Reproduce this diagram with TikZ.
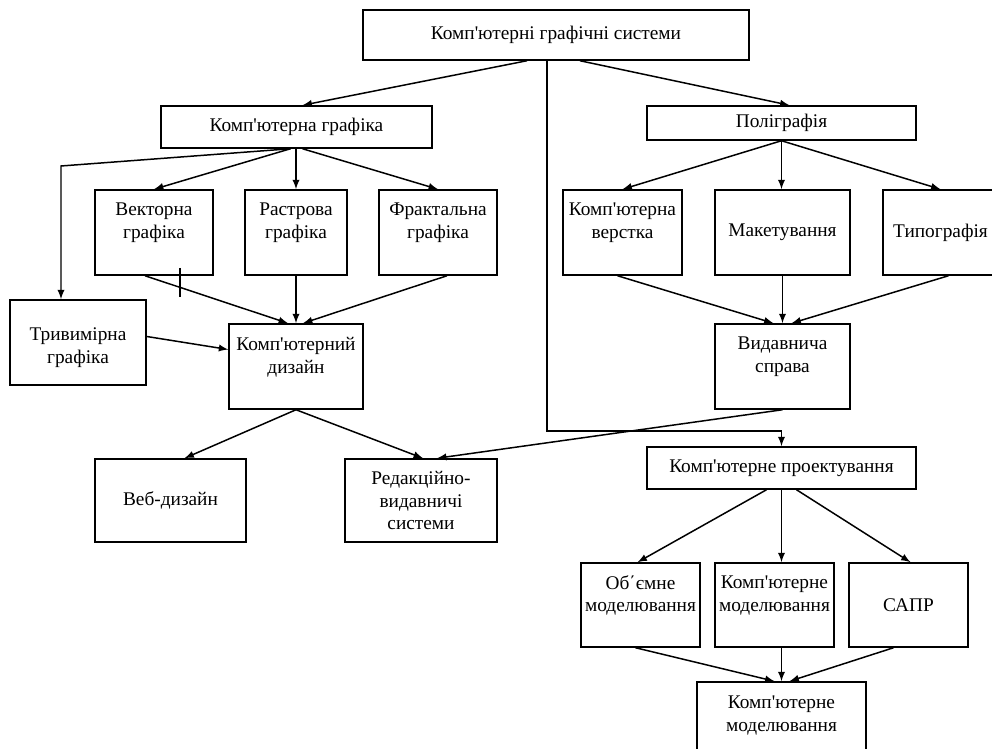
\documentclass[tikz,border=0pt]{standalone}
\usepackage{fontspec}
\setmainfont{Liberation Serif}
\newcommand{\apos}{\textquotesingle}
\usetikzlibrary{arrows, calc}

\begin{document}
\begin{tikzpicture}[
    x=0.02cm, y=-0.02cm,
    >=latex,
    line width=0.85pt,
    font=\fontsize{11}{13}\selectfont,
    box/.style 2 args={rectangle, draw, align=center, inner sep=0pt, minimum width=#1*0.02cm, minimum height=#2*0.02cm}
]
\clip (0,0) rectangle (992,749);

\node[box={386}{50}] (sys) at (556,35) {Комп\apos ютерні графічні системи};
\node[box={271}{42}] (cg) at (296.5,127) {Комп\apos ютерна графіка};
\node[box={269}{34}] (poly) at (781.5,123) {Поліграфія};
\node[box={118}{85}] (vect) at (154,232.5) {Векторна\\графіка\\~};
\node[box={102}{85}] (rast) at (296,232.5) {Растрова\\графіка\\~};
\node[box={118}{85}] (frac) at (438,232.5) {Фрактальна\\графіка\\~};
\node[box={119}{85}] (layout) at (622.5,232.5) {Комп\apos ютерна\\верстка\\~};
\node[box={135}{85}] (maket) at (782.5,232.5) {Макетування};
\node[box={115}{85}] (typo) at (940.5,232.5) {Типографія};
\node[box={136}{85}] (tri) at (78,342.5) {~\\Тривимірна\\графіка};
\node[box={134}{85}] (design) at (296,366.5) {Комп\apos ютерний\\дизайн\\~};
\node[box={135}{85}] (pub) at (782.5,366.5) {Видавнича\\справа\\~};
\node[box={151}{83}] (web) at (170.5,500.5) {Веб-дизайн};
\node[box={152}{83}] (red) at (421,500.5) {Редакційно-\\видавничі\\системи};
\node[box={269}{42}] (proj) at (781.5,468) {Комп\apos ютерне проектування};
\node[box={119}{84}] (vol) at (640.5,605) {Об΄ємне\\моделювання\\~};
\node[box={119}{84}] (cmod) at (774.5,605) {Комп\apos ютерне\\моделювання\\~};
\node[box={119}{84}] (cad) at (908.5,605) {САПР};
\node[box={169}{86}] (bot) at (781.5,725) {Комп\apos ютерне\\моделювання\\~};

\coordinate (down) at (547,431);
\coordinate (tribend) at (61,166);

\draw[->] ($(sys.south)+(-29,0)$) -- ($(cg.north)+(6,0)$);
\draw[->] ($(sys.south)+(24,0)$) -- ($(poly.north)+(8,0)$);
\draw[->] (sys.south -| down) -- (down) -- (down -| proj.north) -- (proj.north);

\draw[->] ($(cg.south)+(-6,0)$) -- (tribend) -- (tribend |- tri.north);
\draw[->] ($(cg.south)+(-6,0)$) -- (vect.north);
\draw[->] (cg.south -| rast.north) -- (rast.north);
\draw[->] ($(cg.south)+(6,0)$) -- (frac.north);

\draw[->] (poly.south) -- (layout.north);
\draw[->] (poly.south) -- (poly.south |- maket.north);
\draw[->] (poly.south) -- (typo.north);

\draw[->] ($(vect.south)+(-9,0)$) -- ($(design.north)+(-8,0)$);
\draw[->] (rast.south) -- (design.north);
\draw[->] ($(frac.south)+(9,0)$) -- ($(design.north)+(7,0)$);
\draw[->] ($(tri.east)+(0,-6)$) -- ($(design.west)+(0,-17)$);
\draw[line width=1.4pt] (180,268) -- (180,297);

\draw[->] ($(layout.south)+(-5,0)$) -- ($(pub.north)+(-9,0)$);
\draw[->] (maket.south) -- (pub.north);
\draw[->] ($(typo.south)+(8,0)$) -- ($(pub.north)+(9,0)$);

\draw[->] (design.south) -- ($(web.north)+(14,0)$);
\draw[->] (design.south) -- ($(red.north)+(2,0)$);
\draw[->] (pub.south) -- ($(red.north)+(16,0)$);

\draw[->] ($(proj.south)+(-15,0)$) -- ($(vol.north)+(-3,0)$);
\draw[->] (proj.south) -- (proj.south |- cmod.north);
\draw[->] ($(proj.south)+(15,0)$) -- ($(cad.north)+(2,0)$);

\draw[->] ($(vol.south)+(-5,0)$) -- ($(bot.north)+(-7,0)$);
\draw[->] (proj.south |- cmod.south) -- (bot.north);
\draw[->] ($(cad.south)+(-15,0)$) -- ($(bot.north)+(8,0)$);

\end{tikzpicture}
\end{document}
